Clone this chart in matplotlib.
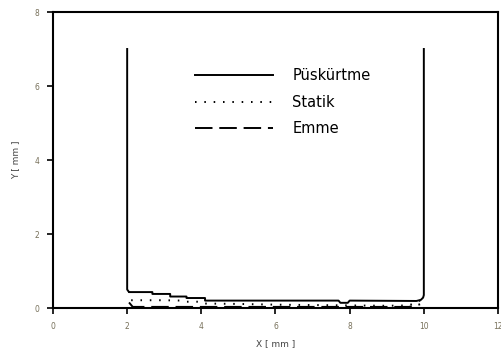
import matplotlib.pyplot as plt

# Püskürtme (solid)
x_pusk = [2.0, 2.0, 2.05, 2.68, 2.68, 3.16, 3.16, 3.6, 3.6, 4.1, 4.1, 7.7, 7.75, 7.95, 8.0, 9.8, 9.92, 9.98, 10.0, 10.0]
y_pusk = [7.0, 0.5, 0.43, 0.43, 0.38, 0.38, 0.31, 0.31, 0.27, 0.27, 0.2, 0.2, 0.14, 0.14, 0.2, 0.19, 0.22, 0.28, 0.35, 7.0]

# Statik (dotted)
x_stat = [2.05, 2.1, 3.0, 3.5, 3.6, 4.0, 4.1, 5.0, 6.0, 7.0, 8.0, 9.0, 9.6, 9.9]
y_stat = [0.45, 0.21, 0.21, 0.2, 0.17, 0.17, 0.12, 0.11, 0.09, 0.08, 0.07, 0.06, 0.07, 0.2]

# Emme (dashed)
x_emme = [2.05, 2.15, 4.0, 6.0, 8.0, 9.6, 9.9]
y_emme = [0.15, 0.03, 0.03, 0.03, 0.03, 0.03, 0.1]

xticks = [0, 2, 4, 6, 8, 10, 12]
yticks = [0, 2, 4, 6, 8]

fig = plt.figure(figsize=(5.02, 3.58), dpi=100)
ax = fig.add_axes([53 / 502, 1 - 308 / 358, 445 / 502, 296 / 358])

ax.plot(x_pusk, y_pusk, color='black', linewidth=1.4, label='Püskürtme')
ax.plot(x_stat, y_stat, color='black', linewidth=1.4, linestyle=(0, (0.8, 4.0)), label='Statik')
ax.plot(x_emme, y_emme, color='black', linewidth=1.4, linestyle=(0, (9, 3.5)), label='Emme')

ax.set_xlim(0, 12)
ax.set_ylim(0, 8)
ax.set_xticks(xticks)
ax.set_yticks(yticks)
ax.tick_params(direction='out', length=4, width=1.2, labelsize=5.5, labelcolor='#77705a', pad=6)
for s in ax.spines.values():
    s.set_linewidth(1.5)

ax.set_xlabel('X [ mm ]', fontsize=6.5, color='#444444', labelpad=6)
ax.set_ylabel('Y [ mm ]', fontsize=6.5, color='#444444', labelpad=10)

ax.legend(loc='upper left', bbox_to_anchor=(0.32, 0.81), frameon=False, fontsize=10.5,
          borderpad=0, borderaxespad=0, handlelength=5.3, handletextpad=1.35, labelspacing=0.78)

fig.savefig('out.png', dpi=100)
